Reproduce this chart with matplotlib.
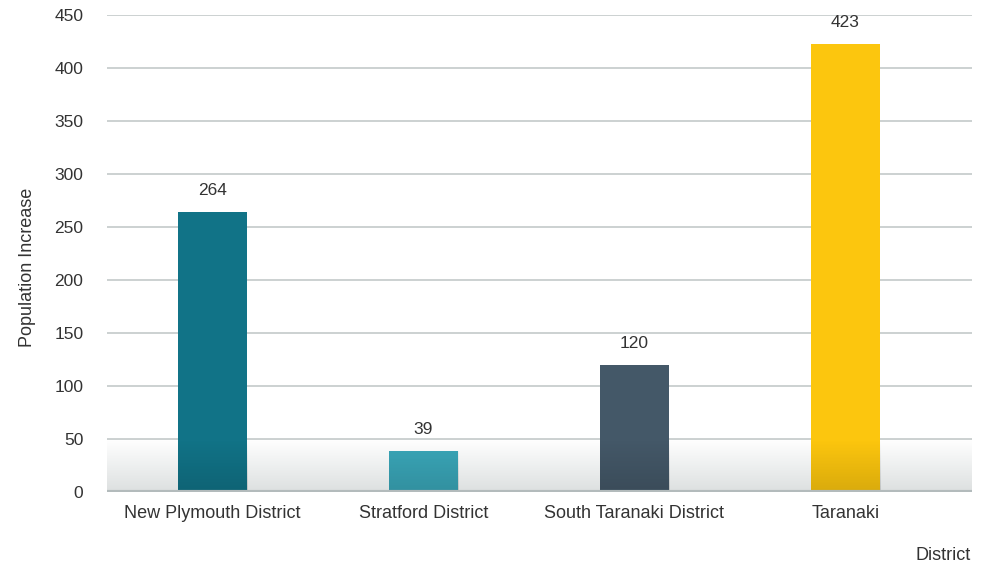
import numpy as np
import matplotlib as mpl
mpl.use('Agg')
import matplotlib.pyplot as plt

districts = ['New Plymouth District', 'Stratford District', 'South Taranaki District', 'Taranaki']
increase = [264, 39, 120, 423]
bar_colors = ['#117387', '#3aa7b9', '#445868', '#fcc60e']
yticks = [0, 50, 100, 150, 200, 250, 300, 350, 400, 450]

plt.rcParams['font.family'] = ['Liberation Sans', 'DejaVu Sans']

fig = plt.figure(figsize=(9.81, 5.63), dpi=100)
ax = fig.add_axes([107 / 981, 71 / 563, 865 / 981, 477 / 563])

x = np.arange(len(districts))
xmin, xmax = -0.5, 3.6

# soft grey floor gradient behind the bars (white at 50 -> grey at 0)
grad = np.linspace(0, 1, 64).reshape(-1, 1)
floor_cmap = mpl.colors.LinearSegmentedColormap.from_list('floor', ['#ffffff', '#dde0e0'])
ax.imshow(grad, extent=[xmin, xmax, 0, 50], aspect='auto', cmap=floor_cmap,
          zorder=0, interpolation='bicubic')

for y in yticks[1:]:
    ax.axhline(y, color='#c3c9c9', lw=1.2, zorder=1)
ax.axhline(0, color='#b3bbbc', lw=3, zorder=4)

bars = ax.bar(x, increase, width=0.33, color=bar_colors, zorder=2)

# darken the bottom of each bar
shade = mpl.colors.LinearSegmentedColormap.from_list(
    'shade', [(0, 0, 0, 0), (0, 0, 0, 0.14)])
for b in bars:
    im = ax.imshow(grad, extent=[b.get_x(), b.get_x() + b.get_width(), 0, 50],
                   aspect='auto', cmap=shade, zorder=3, interpolation='bicubic')
    im.set_clip_path(b)

ax.set_xlim(xmin, xmax)
ax.set_ylim(0, 450)

for xi, v in zip(x, increase):
    ax.annotate(str(v), (xi, v), xytext=(0, 14), textcoords='offset pixels',
                ha='center', va='bottom', fontsize=12.5, color='#333333')

ax.set_xticks(x)
ax.set_xticklabels(districts, fontsize=13)
ax.set_yticks(yticks)
ax.tick_params(axis='both', length=0, labelsize=12.5, labelcolor='#333333')
ax.tick_params(axis='x', labelsize=13, pad=9)
ax.tick_params(axis='y', pad=17)
for s in ax.spines.values():
    s.set_visible(False)

fig.text(28 / 981, 1 - 267 / 563, 'Population Increase', rotation=90,
         ha='center', va='center', fontsize=13, color='#333333')
fig.text(971 / 981, 1 - 555 / 563, 'District', ha='right', va='center',
         fontsize=13, color='#333333')

fig.savefig('out.png', dpi=100)
